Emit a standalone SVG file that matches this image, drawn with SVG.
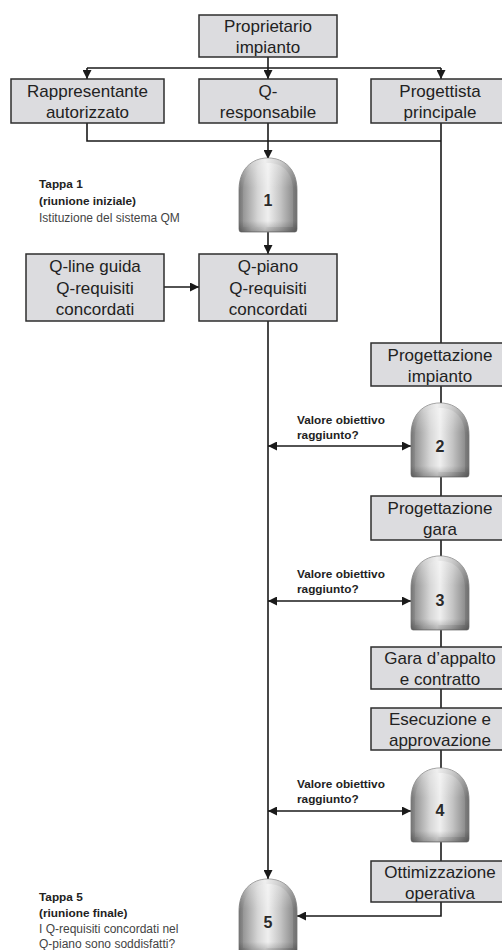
<svg xmlns="http://www.w3.org/2000/svg" width="502" height="950" viewBox="0 0 502 950">
<style>
.box{fill:#dcdcdf;stroke:#2e2e2e;stroke-width:1.5}
.bt{font-family:"Liberation Sans",Arial,sans-serif;font-size:17px;fill:#222;text-anchor:middle}
.ln{fill:none;stroke:#1a1a1a;stroke-width:1.6}
.lbl{font-family:"Liberation Sans",Arial,sans-serif;font-size:11.8px;font-weight:bold;fill:#222}
.tb{font-family:"Liberation Sans",Arial,sans-serif;font-size:11.8px;font-weight:bold;fill:#222}
.tr{font-family:"Liberation Sans",Arial,sans-serif;font-size:12px;fill:#444}
.num{font-family:"Liberation Sans",Arial,sans-serif;font-size:16px;font-weight:bold;fill:#2a2a2a;text-anchor:middle}
</style>
<defs>
<marker id="ah" viewBox="0 0 10 10" refX="10" refY="5" markerWidth="9" markerHeight="9" markerUnits="userSpaceOnUse" orient="auto-start-reverse">
<path d="M0,0 L10,5 L0,10 Z" fill="#1a1a1a"/>
</marker>
<linearGradient id="gh" x1="0" y1="0" x2="1" y2="0">
<stop offset="0" stop-color="#747474"/>
<stop offset="0.22" stop-color="#bdbdbd"/>
<stop offset="0.45" stop-color="#e8e8e8"/>
<stop offset="0.7" stop-color="#b8b8b8"/>
<stop offset="1" stop-color="#6e6e6e"/>
</linearGradient>
<linearGradient id="gi" x1="0" y1="0" x2="1" y2="0">
<stop offset="0" stop-color="#959595"/>
<stop offset="0.3" stop-color="#d6d6d6"/>
<stop offset="0.5" stop-color="#efefef"/>
<stop offset="0.75" stop-color="#c4c4c4"/>
<stop offset="1" stop-color="#8e8e8e"/>
</linearGradient>
<linearGradient id="gv" x1="0" y1="0" x2="0" y2="1">
<stop offset="0" stop-color="#ffffff" stop-opacity="0.35"/>
<stop offset="0.4" stop-color="#ffffff" stop-opacity="0"/>
<stop offset="0.85" stop-color="#000000" stop-opacity="0"/>
<stop offset="1" stop-color="#000000" stop-opacity="0.25"/>
</linearGradient>
<g id="gate">
<path d="M2,74 Q0,74 0,71 L0,32 C0,12 12,0 29,0 C46,0 58,12 58,32 L58,71 Q58,74 56,74 Z" fill="url(#gh)" stroke="#7a7a7a" stroke-width="0.8"/>
<path d="M4,69 L4,33 C4,15 14,5 29,5 C44,5 54,15 54,33 L54,69 Z" fill="url(#gi)"/>
<path d="M2,74 Q0,74 0,71 L0,32 C0,12 12,0 29,0 C46,0 58,12 58,32 L58,71 Q58,74 56,74 Z" fill="url(#gv)"/>
</g>
</defs>
<rect width="502" height="950" fill="#ffffff"/>

<g id="connectors">
<path class="ln" d="M268,57 V68"/>
<path class="ln" d="M87,68 H441"/>
<path class="ln" d="M87,68 V79" marker-end="url(#ah)"/>
<path class="ln" d="M268,68 V79" marker-end="url(#ah)"/>
<path class="ln" d="M441,68 V79" marker-end="url(#ah)"/>
<path class="ln" d="M87,123 V141 H441"/>
<path class="ln" d="M441,123 V343"/>
<path class="ln" d="M268,123 V159" marker-end="url(#ah)"/>
<path class="ln" d="M268,231 V254" marker-end="url(#ah)"/>
<path class="ln" d="M164,287 H199" marker-end="url(#ah)"/>
<path class="ln" d="M268,321 V879" marker-end="url(#ah)"/>
<path class="ln" d="M441,386 V403"/>
<path class="ln" d="M441,477 V496"/>
<path class="ln" d="M441,540 V557"/>
<path class="ln" d="M441,629 V647"/>
<path class="ln" d="M441,689 V708"/>
<path class="ln" d="M441,750 V768"/>
<path class="ln" d="M441,841 V861"/>
<path class="ln" d="M268,446 H411" marker-start="url(#ah)" marker-end="url(#ah)"/>
<path class="ln" d="M268,601 H411" marker-start="url(#ah)" marker-end="url(#ah)"/>
<path class="ln" d="M268,811 H411" marker-start="url(#ah)" marker-end="url(#ah)"/>
<path class="ln" d="M441,902 V916 H297" marker-end="url(#ah)"/>
</g>

<g id="proprietario">
<rect class="box" x="199" y="15" width="138" height="42"/>
<text class="bt" x="268" y="32">Proprietario</text>
<text class="bt" x="268" y="53">impianto</text>
</g>
<g id="rappresentante">
<rect class="box" x="11" y="79" width="153" height="44"/>
<text class="bt" x="87.5" y="97">Rappresentante</text>
<text class="bt" x="87.5" y="118">autorizzato</text>
</g>
<g id="qresponsabile">
<rect class="box" x="199" y="79" width="138" height="44"/>
<text class="bt" x="268" y="97">Q-</text>
<text class="bt" x="268" y="118">responsabile</text>
</g>
<g id="progettista">
<rect class="box" x="371" y="79" width="138" height="44"/>
<text class="bt" x="440" y="97">Progettista</text>
<text class="bt" x="440" y="118">principale</text>
</g>

<g id="gate1">
<use href="#gate" x="239" y="158"/>
<text class="num" x="268" y="206">1</text>
</g>
<g id="tappa1">
<text class="tb" x="39" y="188">Tappa 1</text>
<text class="tb" x="39" y="205">(riunione iniziale)</text>
<text class="tr" x="39" y="222">Istituzione del sistema QM</text>
</g>

<g id="qline">
<rect class="box" x="26" y="254" width="138" height="67"/>
<text class="bt" x="95" y="272">Q-line guida</text>
<text class="bt" x="95" y="293.5">Q-requisiti</text>
<text class="bt" x="95" y="315">concordati</text>
</g>
<g id="qpiano">
<rect class="box" x="199" y="254" width="138" height="67"/>
<text class="bt" x="268" y="272">Q-piano</text>
<text class="bt" x="268" y="293.5">Q-requisiti</text>
<text class="bt" x="268" y="315">concordati</text>
</g>

<g id="progimpianto">
<rect class="box" x="371" y="343" width="138" height="43"/>
<text class="bt" x="440" y="361">Progettazione</text>
<text class="bt" x="440" y="382">impianto</text>
</g>
<g id="gate2">
<use href="#gate" x="411" y="403"/>
<text class="num" x="440" y="452">2</text>
</g>
<g id="label2">
<text class="lbl" x="297" y="424">Valore obiettivo</text>
<text class="lbl" x="297" y="439">raggiunto?</text>
</g>
<g id="proggara">
<rect class="box" x="371" y="496" width="138" height="44"/>
<text class="bt" x="440" y="514">Progettazione</text>
<text class="bt" x="440" y="535">gara</text>
</g>
<g id="gate3">
<use href="#gate" x="411" y="556"/>
<text class="num" x="440" y="606">3</text>
</g>
<g id="label3">
<text class="lbl" x="297" y="578">Valore obiettivo</text>
<text class="lbl" x="297" y="593">raggiunto?</text>
</g>
<g id="garaappalto">
<rect class="box" x="371" y="647" width="138" height="42"/>
<text class="bt" x="440" y="664">Gara d’appalto</text>
<text class="bt" x="440" y="685">e contratto</text>
</g>
<g id="esecuzione">
<rect class="box" x="371" y="708" width="138" height="42"/>
<text class="bt" x="440" y="725">Esecuzione e</text>
<text class="bt" x="440" y="746">approvazione</text>
</g>
<g id="gate4">
<use href="#gate" x="411" y="768"/>
<text class="num" x="440" y="816">4</text>
</g>
<g id="label4">
<text class="lbl" x="297" y="788">Valore obiettivo</text>
<text class="lbl" x="297" y="803">raggiunto?</text>
</g>
<g id="ottimizzazione">
<rect class="box" x="371" y="861" width="138" height="41"/>
<text class="bt" x="440" y="878">Ottimizzazione</text>
<text class="bt" x="440" y="899">operativa</text>
</g>
<g id="gate5">
<use href="#gate" x="239" y="879"/>
<text class="num" x="268" y="928">5</text>
</g>
<g id="tappa5">
<text class="tb" x="39" y="901">Tappa 5</text>
<text class="tb" x="39" y="917">(riunione finale)</text>
<text class="tr" x="39" y="933">I Q-requisiti concordati nel</text>
<text class="tr" x="39" y="948">Q-piano sono soddisfatti?</text>
</g>
</svg>
